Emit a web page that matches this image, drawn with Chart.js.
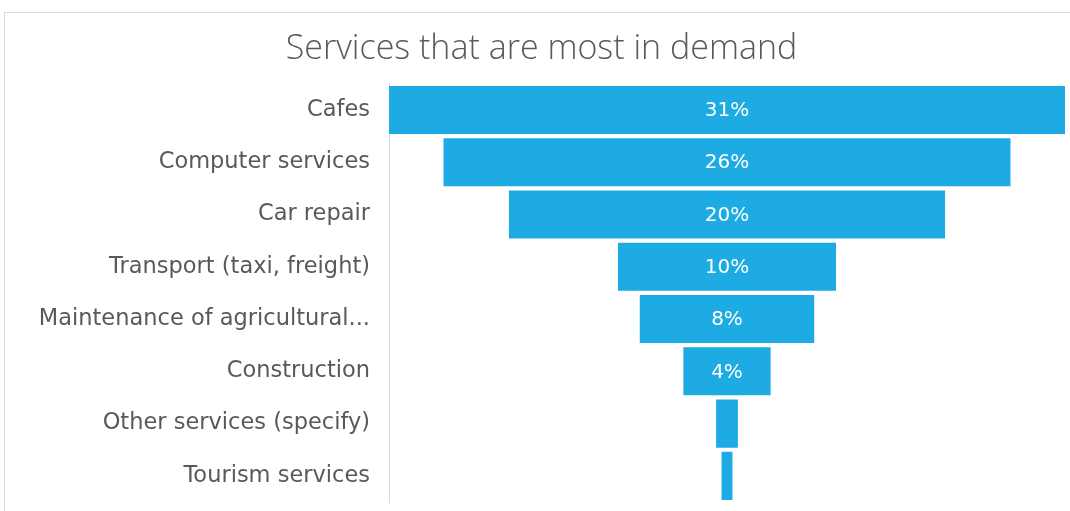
<!DOCTYPE html>
<html>
<head>
<meta charset="utf-8">
<script src="https://cdn.jsdelivr.net/npm/chart.js@4/dist/chart.umd.min.js"></script>
<style>
  html, body { margin: 0; padding: 0; background: #fff; }
  #wrap { width: 1070px; height: 511px; }
</style>
</head>
<body>
<div id="wrap"><canvas id="chart-area" width="1070" height="511"></canvas></div>
<script>
'use strict';

var services = ['Cafes', 'Computer services', 'Car repair', 'Transport (taxi, freight)',
   'Maintenance of agricultural...', 'Construction', 'Other services (specify)', 'Tourism services'];
var shares = [31, 26, 20, 10, 8, 4, 1, 0.5];
var maxShare = 31;

var barColor = 'rgb(30, 171, 227)';
var labelFont = '"DejaVu Sans", sans-serif';

// funnel: each bar is centred on the middle of the x range
var mid = maxShare / 2;
var funnelBars = shares.map(function (v) { return [mid - v / 2, mid + v / 2]; });

// thin grey frame around the whole chart
var framePlugin = {
   id: 'frame',
   beforeDraw: function (chart) {
      var c = chart.ctx;
      c.save();
      c.strokeStyle = '#d9d9d9';
      c.lineWidth = 1;
      c.strokeRect(4.5, 12.5, chart.width + 20, chart.height + 20);
      c.restore();
   }
};

// percentage text in the middle of the wider bars
var valuePlugin = {
   id: 'values',
   afterDatasetsDraw: function (chart) {
      var c = chart.ctx;
      var meta = chart.getDatasetMeta(0);
      c.save();
      c.fillStyle = '#ffffff';
      c.font = '20px ' + labelFont;
      c.textAlign = 'center';
      c.textBaseline = 'middle';
      meta.data.forEach(function (bar, i) {
         if (shares[i] < 4) return;
         var p = bar.getProps(['x', 'y', 'base'], true);
         c.fillText(shares[i] + '%', (p.x + p.base) / 2, p.y + 1);
      });
      c.restore();
   }
};

var config = {
   type: 'bar',
   data: {
      labels: services,
      datasets: [{
         data: funnelBars,
         backgroundColor: barColor,
         borderWidth: 0,
         borderSkipped: false,
         barPercentage: 1,
         categoryPercentage: 0.92
      }]
   },
   options: {
      indexAxis: 'y',
      responsive: false,
      animation: false,
      layout: { padding: { left: 18, right: 5, bottom: 9, top: 0 } },
      plugins: {
         legend: { display: false },
         tooltip: { enabled: false },
         title: {
            display: true,
            text: 'Services that are most in demand',
            color: '#595959',
            font: { family: '"Open Sans", sans-serif', size: 34, weight: '300' },
            padding: { top: 29, bottom: 14 }
         }
      },
      scales: {
         x: {
            display: false,
            min: 0,
            max: maxShare
         },
         y: {
            afterFit: function (scale) {
               scale.width = 371;
               scale.paddingTop = 0;
               scale.paddingBottom = 0;
            },
            grid: { display: false, drawTicks: false },
            border: { display: true, color: '#d9d9d9', width: 1 },
            ticks: {
               color: '#595959',
               padding: 19,
               font: { family: labelFont, size: 22.5 }
            }
         }
      }
   },
   plugins: [framePlugin, valuePlugin]
};

window.onload = function () {
   var ctx = document.getElementById('chart-area').getContext('2d');
   window.myFunnel = new Chart(ctx, config);
};
</script>
</body>
</html>
